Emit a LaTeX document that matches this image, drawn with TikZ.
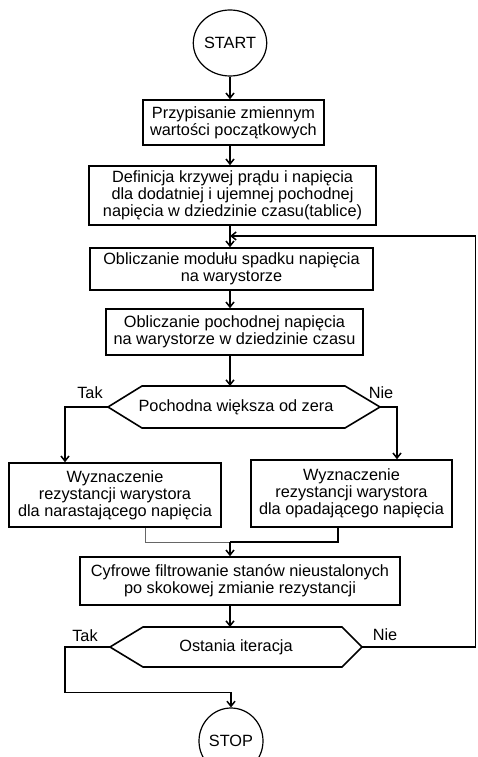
\documentclass[tikz,border=0pt]{standalone}
\usepackage{fontspec}
\setmainfont{Liberation Sans}
\usetikzlibrary{arrows.meta,shapes.geometric}
\begin{document}
\begin{tikzpicture}[x=1pt,y=-1pt,
 every node/.style={font=\fontsize{16.3}{17}\selectfont},
 box/.style={draw,line width=1.6pt,rectangle,inner sep=0pt,align=center},
 term/.style={draw,line width=1.2pt,ellipse,minimum width=64pt,minimum height=66pt,inner sep=0pt},
 hexa/.style={line width=1.6pt,line join=miter},
 arr/.style={line width=1.5pt,-{Straight Barb[length=5pt,width=8pt]}},
 conn/.style={line width=1.4pt},
 gline/.style={line width=0.9pt,black!60}]
\useasboundingbox (0,0) rectangle (478,757);
% terminals and boxes
\node[term] (start) at (230,43) {START};
\node[box,minimum width=181pt,minimum height=45pt] (b1) at (233.5,122.5) {Przypisanie zmiennym\\wartości początkowych};
\node[box,minimum width=287pt,minimum height=59pt] (b2) at (232.5,195.5) {Definicja krzywej prądu i napięcia\\dla dodatniej i ujemnej pochodnej\\napięcia w dziedzinie czasu(tablice)};
\node[box,minimum width=283pt,minimum height=42pt] (b3) at (231.5,269) {Obliczanie modułu spadku napięcia\\na warystorze};
\node[box,minimum width=257pt,minimum height=46pt] (b4) at (234.5,332) {Obliczanie pochodnej napięcia\\na warystorze w dziedzinie czasu};
% decision 1
\coordinate (d1l) at (108,407);
\coordinate (d1r) at (380,407);
\coordinate (d1t) at (230,386);
\draw[hexa] (d1l) -- (142,386) -- (345,386) -- (d1r) -- (345,428) -- (142,428) -- cycle;
\node (d1) at (236,407) {Pochodna większa od zera};
\node[box,minimum width=212pt,minimum height=64pt] (b5) at (115,495) {Wyznaczenie\\rezystancji warystora\\dla narastającego napięcia};
\node[box,minimum width=201pt,minimum height=67pt] (b6) at (351.5,493.5) {Wyznaczenie\\rezystancji warystora\\dla opadającego napięcia};
\node[box,minimum width=320pt,minimum height=48pt] (b7) at (240,581) {Cyfrowe filtrowanie stanów nieustalonych\\po skokowej zmianie rezystancji};
% decision 2
\coordinate (d2l) at (110,647);
\coordinate (d2r) at (362,647);
\coordinate (d2t) at (230,627);
\draw[hexa] (d2l) -- (143,627) -- (342,627) -- (d2r) -- (342,667) -- (143,667) -- cycle;
\node (d2) at (236,647) {Ostania iteracja};
\node[term] (stop) at (231,741) {STOP};
% labels
\node (t1) at (90,393) {Tak};
\node (n1) at (381,393) {Nie};
\node (t2) at (85,636) {Tak};
\node (n2) at (385,635) {Nie};
% connectors
\draw[arr] (start.south) -- (start.south |- b1.north);
\draw[arr] (start.south |- b1.south) -- (start.south |- b2.north);
\draw[arr] (start.south |- b2.south) -- (start.south |- b3.north);
\draw[arr] (start.south |- b3.south) -- (start.south |- b4.north);
\draw[arr] (start.south |- b4.south) -- (d1t);
\draw[arr] (d1l) -| ([xshift=-50pt]b5.north);
\draw[arr] (d1r) -| ([xshift=45.5pt]b6.north);
\coordinate (m) at (230,542);
\draw[gline] ([xshift=30pt]b5.south) |- (m);
\draw[conn] ([xshift=-13.5pt]b6.south) |- (m);
\draw[arr] (m) -- (m |- b7.north);
\draw[arr] (m |- b7.south) -- (d2t);
\coordinate (fb) at (230,236);
\draw[arr] (d2r) -- ++(113.5,0) |- (fb);
\draw[arr] (d2l) -- ++(-45,0) |- ([yshift=15pt]stop.north) -- (stop.north);
\end{tikzpicture}
\end{document}
